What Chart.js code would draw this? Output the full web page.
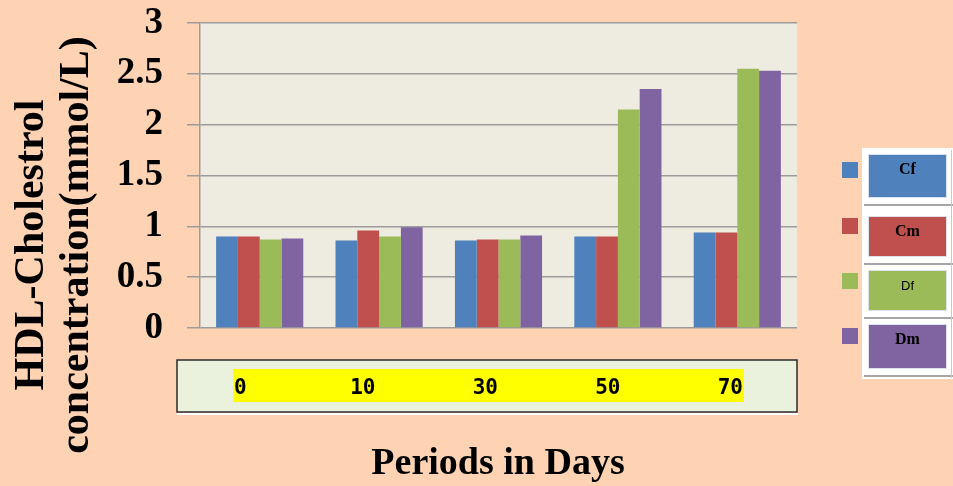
<!DOCTYPE html>
<html><head><meta charset="utf-8">
<script src="https://cdn.jsdelivr.net/npm/chart.js@4"></script>
<style>html,body{margin:0;padding:0;background:#FDD3B4;}canvas{display:block;}</style>
</head><body>
<canvas id="c" width="953" height="486"></canvas>
<script>
const categories = ['0', '10', '30', '50', '70'];
const seriesNames = ['Cf', 'Cm', 'Df', 'Dm'];
const cfValues = [0.90, 0.86, 0.86, 0.90, 0.94];
const cmValues = [0.90, 0.96, 0.87, 0.90, 0.94];
const dfValues = [0.87, 0.90, 0.87, 2.15, 2.55];
const dmValues = [0.88, 0.99, 0.91, 2.35, 2.53];
const seriesColors = ['#4F81BD', '#C0504D', '#9BBB59', '#8064A2'];
const yTitleLines = ['HDL-Cholestrol', 'concentration(mmol/L)'];
const xTitle = 'Periods in Days';

const values = [cfValues, cmValues, dfValues, dmValues];

const serif = '"Liberation Serif", "Times New Roman", serif';

const decor = {
  id: 'decor',
  beforeDraw(chart) {
    const {ctx, chartArea: a} = chart;
    ctx.save();
    ctx.fillStyle = '#EEECE1';
    ctx.fillRect(a.left, a.top, a.right - a.left, a.bottom - a.top);
    ctx.restore();
  },
  afterDraw(chart) {
    const ctx = chart.ctx;
    ctx.save();
    // Y title
    ctx.fillStyle = '#000';
    ctx.font = 'bold 42px ' + serif;
    ctx.textAlign = 'center';
    ctx.textBaseline = 'alphabetic';
    const ys = [43, 88];
    yTitleLines.forEach((t, i) => {
      ctx.save();
      ctx.translate(ys[i], 245);
      ctx.rotate(-Math.PI / 2);
      ctx.fillText(t, 0, 0);
      ctx.restore();
    });
    // X title
    ctx.font = 'bold 38px ' + serif;
    ctx.fillText(xTitle, 498, 474);

    // X label box
    ctx.fillStyle = '#EAF1DD';
    ctx.fillRect(177, 360, 620, 52);
    ctx.strokeStyle = '#2B2B2B';
    ctx.lineWidth = 1.5;
    ctx.strokeRect(177, 360, 620, 52);
    ctx.strokeStyle = '#FFFFFF';
    ctx.lineWidth = 2;
    ctx.beginPath(); ctx.moveTo(177, 414); ctx.lineTo(798, 414); ctx.stroke();
    ctx.fillStyle = '#FFFF00';
    ctx.fillRect(233, 369, 511, 33);
    ctx.fillStyle = '#000';
    ctx.font = 'bold 21px "DejaVu Sans Mono", monospace';
    ctx.textAlign = 'center';
    const w0 = ctx.measureText(categories[0]).width;
    const wN = ctx.measureText(categories[categories.length - 1]).width;
    const c0 = 234 + w0 / 2, cN = 743 - wN / 2;
    categories.forEach((t, i) => {
      const cx = c0 + i * (cN - c0) / (categories.length - 1);
      ctx.fillText(t, cx, 394);
    });

    // Legend panel
    ctx.fillStyle = '#FFFFFF';
    ctx.fillRect(862, 148, 91, 231);
    const boxes = [[868, 154, 79, 44], [868, 216, 79, 41], [868, 270, 79, 41], [868, 324, 79, 45]];
    const squaresY = [162, 218, 273, 328];
    seriesNames.forEach((name, i) => {
      const [bx, by, bw, bh] = boxes[i];
      ctx.strokeStyle = '#A6A6A6';
      ctx.lineWidth = 2;
      ctx.beginPath(); ctx.moveTo(864, by + bh + 7); ctx.lineTo(953, by + bh + 7); ctx.stroke();
      ctx.fillStyle = seriesColors[i];
      ctx.fillRect(bx, by, bw, bh);
      ctx.strokeStyle = '#DCE2EC';
      ctx.lineWidth = 1;
      ctx.strokeRect(bx + 0.5, by + 0.5, bw - 1, bh - 1);
      ctx.fillRect(842, squaresY[i], 16, 16);
      ctx.fillStyle = '#000';
      ctx.textAlign = 'center';
      ctx.textBaseline = 'middle';
      ctx.font = name === 'Df' ? '13px "Liberation Sans", Arial, sans-serif' : 'bold 16px ' + serif;
      ctx.fillText(name, bx + bw / 2, by + 16);
    });
    ctx.strokeStyle = '#C8C8C8';
    ctx.lineWidth = 1;
    ctx.beginPath(); ctx.moveTo(951.5, 150); ctx.lineTo(951.5, 378); ctx.stroke();
    ctx.restore();
  }
};

new Chart(document.getElementById('c'), {
  type: 'bar',
  data: {
    labels: categories,
    datasets: seriesNames.map((n, i) => ({
      label: n,
      data: values[i],
      backgroundColor: seriesColors[i],
      borderWidth: 0,
      barPercentage: 1,
      categoryPercentage: 0.73
    }))
  },
  options: {
    responsive: false,
    animation: false,
    devicePixelRatio: 1,
    layout: {padding: {left: 0, right: 156, top: 23, bottom: 158}},
    plugins: {legend: {display: false}, tooltip: {enabled: false}},
    scales: {
      x: {display: false, grid: {display: false}},
      y: {
        min: 0, max: 3,
        ticks: {stepSize: 0.5, color: '#000', padding: 24, font: {family: serif, size: 37, weight: 'bold'},
          callback: v => String(v)},
        grid: {color: '#9C9C9C', lineWidth: 1.5, tickLength: 13, drawTicks: true},
        border: {display: true, color: '#9C9C9C', width: 1.5},
        afterFit(s) { s.width = 200; s.paddingTop = 0; s.paddingBottom = 0; }
      }
    }
  },
  plugins: [decor]
});
</script>
</body></html>
